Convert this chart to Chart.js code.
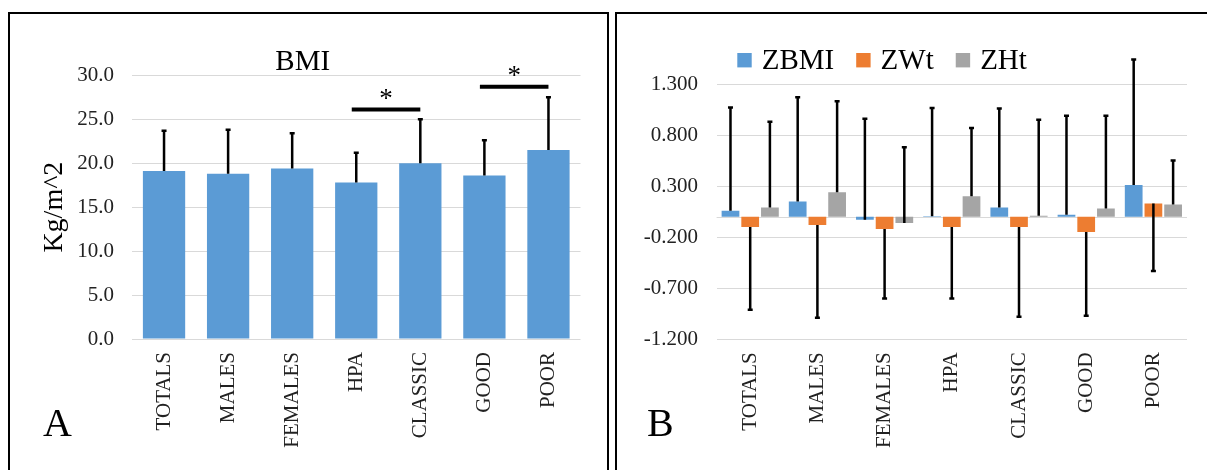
<!DOCTYPE html>
<html>
<head>
<meta charset="utf-8">
<title>BMI and Z-scores</title>
<script src="https://cdn.jsdelivr.net/npm/chart.js@4.4.1/dist/chart.umd.min.js"></script>
<style>
	html, body {
		margin: 0;
		padding: 0;
		background: #fff;
		width: 1207px;
		height: 470px;
		overflow: hidden;
	}
	.panel {
		position: absolute;
		top: 12px;
		height: 470px;
		border: 2px solid #000;
		border-bottom: none;
		box-sizing: border-box;
	}
	#panelA { left: 8px; width: 601px; }
	#panelB { left: 615px; width: 600px; }
	.panel canvas { position: absolute; left: 0; top: 0; }
	.tag {
		position: absolute;
		font: 40px 'Liberation Serif', 'Times New Roman', serif;
		line-height: 40px;
		color: #000;
	}
</style>
</head>
<body>
<div class="panel" id="panelA"><canvas id="bmiChart" width="597" height="456"></canvas></div>
<div class="panel" id="panelB"><canvas id="zChart" width="590" height="456"></canvas></div>
<div class="tag" style="left:43px;top:403px;">A</div>
<div class="tag" style="left:647px;top:403px;">B</div>
<script type="text/javascript">
	const categories = ['TOTALS', 'MALES', 'FEMALES', 'HPA', 'CLASSIC', 'GOOD', 'POOR'];

	// BMI mean and SD (kg/m^2)
	const bmiMean = [19.1, 18.8, 19.4, 17.8, 20.0, 18.6, 21.5];
	const bmiSd = [4.6, 5.0, 4.0, 3.4, 5.0, 4.0, 6.0];

	// z-scores and SDs
	const zbmi = [0.06, 0.15, -0.03, 0.005, 0.09, 0.02, 0.31];
	const zbmiSd = [1.01, 1.02, 0.99, 1.06, 0.97, 0.97, 1.23];
	const zwt = [-0.10, -0.08, -0.12, -0.10, -0.10, -0.15, 0.13];
	const zwtSd = [0.81, 0.91, 0.68, 0.70, 0.88, 0.82, 0.66];
	const zht = [0.09, 0.24, -0.06, 0.20, 0.01, 0.08, 0.12];
	const zhtSd = [0.84, 0.89, 0.74, 0.67, 0.94, 0.91, 0.43];

	// axis ranges / tick steps
	const bmiMin = 0, bmiMax = 30, bmiStep = 5;
	const zMin = -1.2, zMax = 1.3, zStep = 0.5;

	// significant pairs (category indexes) and the level of their bracket
	const sigPairs = [[3, 4], [5, 6]];
	const sigLevels = [26.1, 28.7];

	const serif = "'Liberation Serif', 'Times New Roman', serif";
	const tickColor = '#222';
	const gridColor = '#d9d9d9';

	// SD whiskers, drawn from the bar value in one direction
	const errorBars = {
		id: 'errorBars',
		afterDatasetsDraw(chart) {
			const ctx = chart.ctx;
			const yScale = chart.scales.y;
			chart.data.datasets.forEach((ds, i) => {
				if (!ds.errors) return;
				const meta = chart.getDatasetMeta(i);
				ctx.save();
				ctx.strokeStyle = '#000';
				ctx.lineWidth = 2.5;
				meta.data.forEach((bar, j) => {
					const y0 = yScale.getPixelForValue(ds.data[j]);
					const y1 = yScale.getPixelForValue(ds.data[j] + ds.errorSign * ds.errors[j]);
					ctx.beginPath();
					ctx.moveTo(bar.x, y0);
					ctx.lineTo(bar.x, y1);
					ctx.moveTo(bar.x - 2.5, y1);
					ctx.lineTo(bar.x + 2.5, y1);
					ctx.stroke();
				});
				ctx.restore();
			});
		}
	};

	// brackets with asterisks over the significant pairs
	const sigBrackets = {
		id: 'sigBrackets',
		afterDatasetsDraw(chart) {
			const { ctx, scales: { x, y } } = chart;
			sigPairs.forEach(([a, b], k) => {
				const yy = y.getPixelForValue(sigLevels[k]);
				const xa = x.getPixelForValue(a) - 4.5;
				const xb = x.getPixelForValue(b);
				ctx.save();
				ctx.strokeStyle = '#000';
				ctx.lineWidth = 4;
				ctx.beginPath();
				ctx.moveTo(xa, yy);
				ctx.lineTo(xb, yy);
				ctx.stroke();
				ctx.fillStyle = '#000';
				ctx.font = '27px ' + serif;
				ctx.textAlign = 'center';
				ctx.textBaseline = 'alphabetic';
				ctx.fillText('*', (xa + xb) / 2, yy - 3);
				ctx.restore();
			});
		}
	};

	// light line at zero for the z-score panel
	const zeroLine = {
		id: 'zeroLine',
		beforeDatasetsDraw(chart) {
			const { ctx, chartArea, scales: { y } } = chart;
			const y0 = Math.round(y.getPixelForValue(0)) + 0.5;
			ctx.save();
			ctx.strokeStyle = gridColor;
			ctx.lineWidth = 1;
			ctx.beginPath();
			ctx.moveTo(chartArea.left, y0);
			ctx.lineTo(chartArea.right, y0);
			ctx.stroke();
			ctx.restore();
		}
	};

	// square-marker legend above the plot
	const boxLegend = {
		id: 'boxLegend',
		afterDraw(chart) {
			const { ctx, chartArea } = chart;
			const cy = chartArea.top - 24;
			let x = chartArea.left + 20.7;
			ctx.save();
			ctx.font = '29px ' + serif;
			ctx.textBaseline = 'middle';
			ctx.textAlign = 'left';
			chart.data.datasets.forEach(ds => {
				ctx.fillStyle = ds.backgroundColor;
				ctx.fillRect(x, cy - 7, 14.4, 14.4);
				x += 14.4 + 10;
				ctx.fillStyle = '#000';
				ctx.fillText(ds.label, x, cy + 1);
				x += ctx.measureText(ds.label).width + 22;
			});
			ctx.restore();
		}
	};

	const xTicks = {
		color: tickColor,
		font: { family: serif, size: 21 },
		minRotation: 90,
		maxRotation: 90,
		autoSkip: false,
		padding: 5
	};

	new Chart(document.getElementById('bmiChart'), {
		type: 'bar',
		data: {
			labels: categories,
			datasets: [{
				label: 'BMI',
				data: bmiMean,
				errors: bmiSd,
				errorSign: 1,
				backgroundColor: '#5B9BD5',
				categoryPercentage: 0.66,
				barPercentage: 1
			}]
		},
		options: {
			responsive: false,
			animation: false,
			layout: { padding: { left: 14.9, right: 26.5, top: 0, bottom: 0 } },
			plugins: {
				legend: { display: false },
				tooltip: { enabled: false },
				title: {
					display: true,
					text: 'BMI',
					color: '#000',
					font: { family: serif, size: 29, weight: 'normal', lineHeight: 1 },
					padding: { top: 33.5, bottom: -1.2 }
				}
			},
			scales: {
				x: {
					grid: { display: false },
					border: { display: false },
					ticks: xTicks,
					afterFit: s => { s.height = 131; }
				},
				y: {
					min: bmiMin,
					max: bmiMax,
					ticks: {
						stepSize: bmiStep,
						callback: v => v.toFixed(1),
						color: tickColor,
						font: { family: serif, size: 21 },
						padding: 18
					},
					grid: { color: gridColor, drawTicks: false },
					border: { display: false },
					title: {
						display: true,
						text: 'Kg/m^2',
						color: '#000',
						font: { family: serif, size: 28 },
						padding: { top: 12.8, bottom: 0 }
					},
					afterFit: s => { s.width = 107.1; }
				}
			}
		},
		plugins: [errorBars, sigBrackets]
	});

	new Chart(document.getElementById('zChart'), {
		type: 'bar',
		data: {
			labels: categories,
			datasets: [
				{ label: 'ZBMI', data: zbmi, errors: zbmiSd, errorSign: 1, backgroundColor: '#5B9BD5' },
				{ label: 'ZWt', data: zwt, errors: zwtSd, errorSign: -1, backgroundColor: '#ED7D31' },
				{ label: 'ZHt', data: zht, errors: zhtSd, errorSign: 1, backgroundColor: '#A5A5A5' }
			]
		},
		options: {
			responsive: false,
			animation: false,
			categoryPercentage: 0.88,
			barPercentage: 0.9,
			layout: { padding: { left: 0, right: 20, top: 70, bottom: 0 } },
			plugins: {
				legend: { display: false },
				tooltip: { enabled: false }
			},
			scales: {
				x: {
					grid: { display: false },
					border: { display: false },
					ticks: xTicks,
					afterFit: s => { s.height = 130.7; }
				},
				y: {
					min: zMin,
					max: zMax,
					ticks: {
						stepSize: zStep,
						callback: v => v.toFixed(3),
						color: tickColor,
						font: { family: serif, size: 21 },
						padding: 18.6
					},
					grid: { color: gridColor, drawTicks: false },
					border: { display: false },
					afterFit: s => { s.width = 99.6; }
				}
			}
		},
		plugins: [zeroLine, errorBars, boxLegend]
	});
</script>
</body>
</html>
